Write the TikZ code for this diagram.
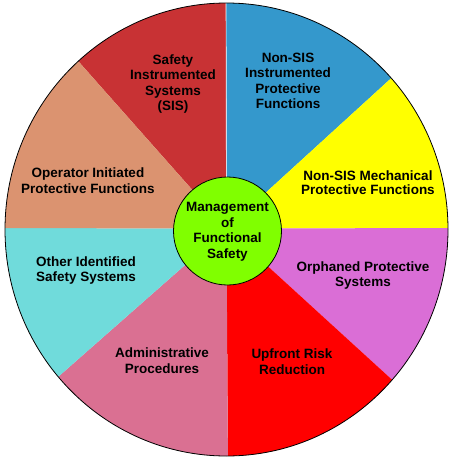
\documentclass[tikz,border=0pt]{standalone}
\usepackage{fontspec}
\setmainfont{Liberation Sans}
\definecolor{sisred}{RGB}{200,50,52}
\definecolor{nsblue}{RGB}{52,152,204}
\definecolor{mechyellow}{RGB}{255,255,0}
\definecolor{orphorchid}{RGB}{218,110,214}
\definecolor{upred}{RGB}{255,0,0}
\definecolor{admpink}{RGB}{218,112,146}
\definecolor{othcyan}{RGB}{112,219,219}
\definecolor{opsalmon}{RGB}{219,147,112}
\definecolor{hubgreen}{RGB}{128,255,0}
\begin{document}
\begin{tikzpicture}[x=1pt,y=-1pt,
  lbl/.style={font=\fontsize{13.5}{15.5}\selectfont\bfseries, align=center, text=black, inner sep=0pt}]
\useasboundingbox (0,0) rectangle (453,461);
\fill[white] (0,0) rectangle (453,461);
\coordinate (C) at (226.5,228.5);
\coordinate (pT) at (226,-30);
\coordinate (pUR) at (472.5,4);
\coordinate (pR) at (480,228);
\coordinate (pLR) at (475,455.5);
\coordinate (pB) at (228,480);
\coordinate (pLL) at (-26,451);
\coordinate (pL) at (-30,228);
\coordinate (pUL) at (5,-21.5);
\begin{scope}
  \clip (226.5,229.5) ellipse [x radius=221.5, y radius=226.5];
  \fill[sisred] (C) -- (pUL) -- (pT) -- cycle;
  \fill[nsblue] (C) -- (pT) -- (pUR) -- cycle;
  \fill[mechyellow] (C) -- (pUR) -- (pR) -- cycle;
  \fill[orphorchid] (C) -- (pR) -- (pLR) -- cycle;
  \fill[upred] (C) -- (pLR) -- (pB) -- cycle;
  \fill[admpink] (C) -- (pB) -- (pLL) -- cycle;
  \fill[othcyan] (C) -- (pLL) -- (pL) -- cycle;
  \fill[opsalmon] (C) -- (pL) -- (pUL) -- cycle;
  \draw[white, line width=0.7pt] (C) -- (pT);
\end{scope}
\draw[line width=0.8pt] (226.5,229.5) ellipse [x radius=221.5, y radius=226.5];
\node[circle, fill=hubgreen, draw=black, line width=0.8pt, minimum size=108pt, inner sep=0pt] (hub) at (227.5,231) {};
\node[lbl] (hubtext) at (227.5,232) {Management\\of\\Functional\\Safety};
\node[lbl] (sis) at (173,84) {Safety\\Instrumented\\Systems\\(SIS)};
\node[lbl] (nonsis) at (288,81) {Non-SIS\\Instrumented\\Protective\\Functions};
\node[lbl, font=\fontsize{13.5}{14}\selectfont\bfseries] (mech) at (368,182.5) {Non-SIS Mechanical\\Protective Functions};
\node[lbl] (orph) at (363,275.5) {Orphaned Protective\\Systems};
\node[lbl] (upfront) at (292,361.5) {Upfront Risk\\Reduction};
\node[lbl] (admin) at (162,360.5) {Administrative\\Procedures};
\node[lbl] (other) at (86,270.5) {Other Identified\\Safety Systems};
\node[lbl] (oper) at (88,180.5) {Operator Initiated\\Protective Functions};
\end{tikzpicture}
\end{document}
